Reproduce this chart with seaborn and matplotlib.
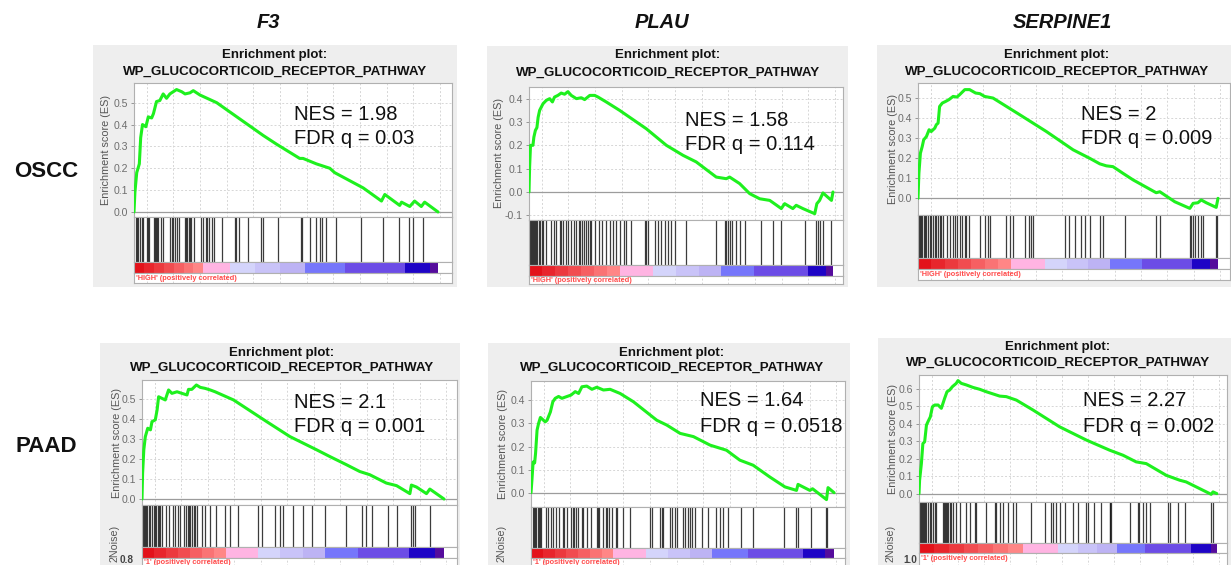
import numpy as np
import pandas as pd
import matplotlib
matplotlib.use("Agg")
import matplotlib.pyplot as plt
import seaborn as sns
from matplotlib.patches import Rectangle
from matplotlib.colors import to_rgb

# ---------------- data ----------------
genes = ["F3", "PLAU", "SERPINE1"]
cohorts = ["OSCC", "PAAD"]
pathway = "WP_GLUCOCORTICOID_RECEPTOR_PATHWAY"
phenotype = ["'HIGH' (positively correlated)", "'1' (positively correlated)"]
metric_label = "2Noise)"
nes_values = [["1.98", "1.58", "2"], ["2.1", "1.64", "2.27"]]
fdr_values = [["0.03", "0.114", "0.009"], ["0.001", "0.0518", "0.002"]]

# running enrichment score: rank position (fraction of ranked list) and ES
f3_oscc_rank = [0, .003, .009, .0175, .022, .028, .039, .047, .058, .064, .074, .085, .096, .107, .118, .14,
                .157, .168, .184, .195, .217, .272, .425, .469, .545, .556, .6, .644, .66, .754, .814, .825,
                .874, .88, .907, .923, .945, .956, 1.0]
f3_oscc_es = [0, .09, .18, .22, .34, .40, .39, .435, .43, .45, .505, .51, .54, .52, .54, .56, .55, .54, .545,
              .555, .535, .5, .35, .31, .245, .245, .22, .2, .18, .11, .05, .08, .03, .045, .025, .05, .025,
              .045, 0]
plau_oscc_rank = [0, .002, .005, .013, .016, .021, .026, .030, .035, .046, .057, .068, .077, .084, .095, .106,
                  .117, .128, .139, .156, .172, .183, .200, .216, .227, .254, .298, .386, .452, .507, .550,
                  .616, .649, .660, .693, .726, .759, .792, .803, .830, .841, .868, .879, .901, .940, .947,
                  .956, .967, .995, 1.0]
plau_oscc_es = [0, .107, .2, .2, .235, .264, .276, .32, .35, .378, .393, .4, .386, .407, .414, .424, .419, .43,
                .414, .4, .404, .396, .414, .414, .407, .386, .35, .271, .2, .157, .129, .064, .057, .064, .036,
                -.007, -.029, -.036, -.046, -.071, -.05, -.071, -.057, -.071, -.093, -.05, -.036, -.004,
                -.036, 0]
serpine1_oscc_rank = [0, .003, .008, .014, .019, .028, .037, .044, .056, .061, .067, .072, .081, .092, .103,
                      .117, .130, .139, .156, .172, .192, .206, .222, .25, .339, .428, .517, .572, .606, .628,
                      .65, .683, .717, .794, .806, .817, .856, .906, .917, .933, .944, .961, .994, 1.0]
serpine1_oscc_es = [0, .125, .225, .258, .292, .308, .342, .333, .35, .367, .375, .458, .475, .483, .492, .508,
                    .505, .517, .542, .542, .525, .522, .508, .5, .417, .333, .242, .2, .172, .162, .158, .125,
                    .092, .028, .033, .022, -.017, -.05, -.025, -.022, -.008, -.022, -.045, 0]
f3_paad_rank = [0, .002, .006, .011, .019, .028, .033, .044, .050, .055, .066, .077, .088, .099, .116, .132,
                .149, .154, .165, .180, .193, .209, .226, .242, .303, .413, .490, .534, .578, .622, .677, .721,
                .754, .809, .843, .887, .892, .909, .942, .953, 1.0]
f3_paad_es = [0, .13, .247, .313, .355, .347, .388, .397, .447, .513, .505, .497, .547, .53, .538, .53, .522,
              .55, .55, .572, .56, .555, .547, .538, .497, .388, .313, .28, .247, .213, .172, .138, .122, .08,
              .067, .027, .07, .06, .027, .05, 0]
plau_paad_rank = [0, .003, .007, .012, .015, .020, .025, .031, .047, .053, .064, .072, .080, .091, .102, .119,
                  .132, .146, .157, .168, .184, .201, .217, .239, .261, .294, .338, .415, .448, .492, .536,
                  .591, .645, .689, .733, .788, .838, .876, .881, .920, .929, .975, .980, 1.0]
plau_paad_es = [0, .054, .133, .129, .17, .271, .3, .326, .307, .314, .35, .394, .409, .417, .409, .417, .423,
                .438, .43, .459, .462, .448, .457, .445, .448, .43, .394, .314, .293, .257, .243, .206, .184,
                .141, .119, .068, .025, .01, .036, .01, .017, -.03, .022, 0]
serpine1_paad_rank = [0, .002, .008, .013, .019, .025, .030, .038, .045, .053, .064, .075, .086, .094, .103,
                      .112, .125, .131, .142, .159, .181, .204, .226, .271, .293, .327, .383, .472, .562, .640,
                      .685, .729, .763, .830, .875, .897, .981, .987, 1.0]
serpine1_paad_es = [0, .077, .172, .287, .297, .393, .412, .44, .498, .508, .508, .489, .546, .584, .594, .613,
                    .632, .648, .632, .623, .609, .598, .584, .559, .556, .536, .479, .383, .307, .249, .22,
                    .182, .172, .105, .077, .067, -.004, .01, 0]

# gene-set hit positions (fraction of ranked list)
f3_oscc_hits = [.005, .009, .014, .020, .025, .028, .044, .047, .050, .066, .069, .072, .077, .080, .089, .096,
                .118, .124, .129, .136, .142, .149, .168, .171, .175, .181, .184, .189, .197, .222, .228, .237,
                .241, .248, .255, .263, .291, .332, .337, .345, .376, .419, .425, .474, .549, .553, .578, .600,
                .611, .620, .631, .664, .748, .819, .872, .905, .918, .951]
plau_oscc_hits = [.002, .005, .010, .013, .016, .020, .024, .027, .032, .037, .042, .046, .057, .073, .081,
                  .090, .101, .106, .112, .121, .128, .139, .148, .156, .163, .169, .173, .180, .186, .194,
                  .200, .205, .216, .230, .241, .252, .265, .276, .287, .298, .311, .320, .337, .380, .386,
                  .391, .413, .424, .435, .446, .457, .468, .479, .518, .616, .644, .649, .655, .662, .669,
                  .682, .693, .709, .764, .803, .830, .907, .945, .951, .956, .967, .995]
serpine1_oscc_hits = [.002, .006, .009, .013, .019, .022, .028, .033, .039, .044, .050, .056, .061, .067, .072,
                      .078, .083, .097, .106, .117, .122, .130, .139, .148, .156, .161, .170, .206, .222, .233,
                      .241, .294, .306, .317, .356, .370, .378, .383, .489, .503, .522, .544, .556, .572, .606,
                      .617, .689, .794, .806, .908, .911, .917, .922, .933, .944, .950, .994, .998]
f3_paad_hits = [.002, .006, .009, .012, .017, .022, .028, .033, .039, .044, .047, .052, .056, .061, .066, .080,
                .088, .102, .110, .118, .127, .138, .146, .151, .155, .160, .165, .171, .176, .182, .198, .209,
                .226, .246, .275, .292, .319, .385, .396, .441, .457, .468, .501, .534, .562, .606, .675, .727,
                .743, .760, .815, .843, .892, .898, .903, .953]
plau_paad_hits = [.005, .009, .012, .016, .022, .025, .030, .033, .049, .055, .066, .071, .082, .093, .104,
                  .109, .120, .131, .137, .142, .148, .155, .169, .173, .186, .197, .219, .222, .226, .238,
                  .246, .251, .257, .268, .279, .284, .304, .328, .393, .399, .426, .432, .437, .459, .464,
                  .475, .481, .503, .508, .519, .525, .530, .541, .563, .585, .612, .623, .634, .650, .694,
                  .732, .836, .874, .880, .923, .973, .978]
serpine1_paad_hits = [.002, .006, .009, .013, .017, .020, .025, .030, .036, .041, .047, .053, .058, .081, .084,
                      .087, .092, .095, .098, .103, .109, .114, .125, .136, .159, .170, .187, .192, .226, .254,
                      .260, .271, .282, .299, .315, .327, .377, .422, .444, .450, .461, .472, .489, .517, .534,
                      .562, .567, .589, .612, .640, .642, .645, .707, .735, .740, .752, .763, .774, .836, .841,
                      .869, .892, .981, .987]

# ranked-list colour band ends (fraction): red, pink, lavender, blue, violet, dark blue, purple
f3_oscc_bands = [.228, .315, .562, .693, .89, .972, 1]
plau_oscc_bands = [.298, .408, .633, .739, .918, .976, 1]
serpine1_oscc_bands = [.311, .422, .641, .748, .914, .974, 1]
f3_paad_bands = [.279, .383, .606, .716, .885, .969, 1]
plau_paad_bands = [.272, .38, .598, .717, .896, .97, 1]
serpine1_paad_bands = [.349, .466, .665, .76, .913, .98, 1]

# y tick labels
f3_oscc_yticks = [0.0, 0.1, 0.2, 0.3, 0.4, 0.5]
plau_oscc_yticks = [-0.1, 0.0, 0.1, 0.2, 0.3, 0.4]
serpine1_oscc_yticks = [0.0, 0.1, 0.2, 0.3, 0.4, 0.5]
f3_paad_yticks = [0.0, 0.1, 0.2, 0.3, 0.4, 0.5]
plau_paad_yticks = [0.0, 0.1, 0.2, 0.3, 0.4]
serpine1_paad_yticks = [0.0, 0.1, 0.2, 0.3, 0.4, 0.5, 0.6]

# ---------------- style ----------------
sns.set_style("white")
plt.rcParams['font.family'] = ['Liberation Sans', 'DejaVu Sans']

W, H = 1231, 565
fig = plt.figure(figsize=(W / 100, H / 100), dpi=100)
fig.patch.set_facecolor("white")


def rect(x0, y0, x1, y1):
    return [x0 / W, 1 - y1 / H, (x1 - x0) / W, (y1 - y0) / H]


def ftxt(x, y, s, **kw):
    fig.text(x / W, 1 - y / H, s, **kw)


def blend(c1, c2, n):
    a, b = np.array(to_rgb(c1)), np.array(to_rgb(c2))
    return [tuple(a + (b - a) * t) for t in np.linspace(0, 1, n)]


GREEN = "#1ef01e"
FRAME = "#b0b0b0"
GRIDC = "#d6d6d6"

panels = [
    dict(row=0, col=0, rank=f3_oscc_rank, es=f3_oscc_es, hits=f3_oscc_hits, bands=f3_oscc_bands,
         yt=f3_oscc_yticks, box=(93, 45, 457, 287), esr=(134, 83, 452, 217), hr=(134, 217, 452, 262),
         cr=(134, 262, 452, 273), mr=(134, 273, 452, 283), xmax=1.046, ylim=(-0.023, 0.59),
         tx=275, ty=(55, 72), ylx=106, nes=(294, 114, 138), red=278),
    dict(row=0, col=1, rank=plau_oscc_rank, es=plau_oscc_es, hits=plau_oscc_hits, bands=plau_oscc_bands,
         yt=plau_oscc_yticks, box=(487, 46, 848, 287), esr=(529, 87, 843, 220), hr=(529, 220, 843, 265),
         cr=(529, 265, 843, 276), mr=(529, 276, 843, 284), xmax=1.033, ylim=(-0.12, 0.45),
         tx=668, ty=(55, 73), ylx=499, nes=(685, 120, 145), red=280),
    dict(row=0, col=2, rank=serpine1_oscc_rank, es=serpine1_oscc_es, hits=serpine1_oscc_hits,
         bands=serpine1_oscc_bands, yt=serpine1_oscc_yticks, box=(877, 45, 1232, 287),
         esr=(918, 83, 1230, 215), hr=(918, 215, 1230, 258), cr=(918, 258, 1230, 269),
         mr=(918, 269, 1230, 280), xmax=1.04, ylim=(-0.083, 0.575),
         tx=1057, ty=(55, 72), ylx=893, nes=(1081, 115, 138), red=274),
    dict(row=1, col=0, rank=f3_paad_rank, es=f3_paad_es, hits=f3_paad_hits, bands=f3_paad_bands,
         yt=f3_paad_yticks, box=(100, 343, 460, 570), esr=(142, 380, 457, 505), hr=(142, 505, 457, 547),
         cr=(142, 547, 457, 558), mr=(142, 558, 457, 572), xmax=1.043, ylim=(-0.03, 0.597),
         tx=282, ty=(353, 368), ylx=117, nes=(294, 402, 427), red=562, rk="0.8", rkx=127),
    dict(row=1, col=1, rank=plau_paad_rank, es=plau_paad_es, hits=plau_paad_hits, bands=plau_paad_bands,
         yt=plau_paad_yticks, box=(488, 343, 850, 570), esr=(531, 381, 845, 507), hr=(531, 507, 845, 548),
         cr=(531, 548, 845, 558), mr=(531, 558, 845, 572), xmax=1.036, ylim=(-0.062, 0.484),
         tx=672, ty=(353, 368), ylx=503, nes=(700, 401, 426), red=562, rk=None, rkx=0),
    dict(row=1, col=2, rank=serpine1_paad_rank, es=serpine1_paad_es, hits=serpine1_paad_hits,
         bands=serpine1_paad_bands, yt=serpine1_paad_yticks, box=(878, 338, 1232, 570),
         esr=(919, 375, 1227, 502), hr=(919, 502, 1227, 543), cr=(919, 543, 1227, 553),
         mr=(919, 553, 1227, 572), xmax=1.034, ylim=(-0.048, 0.68),
         tx=1058, ty=(347, 363), ylx=893, nes=(1083, 401, 426), red=558, rk="1.0", rkx=910),
]

red_shades = blend("#e3121a", "#ff8686", 7)
lav_shades = blend("#d4d4fb", "#bdb3f4", 3)
solid = {1: "#ffb4e2", 3: "#7676fb", 4: "#6c4ce6", 5: "#1e04c6", 6: "#550c9c"}


def style_frame(ax):
    for s in ax.spines.values():
        s.set_color(FRAME)
        s.set_linewidth(0.8)
        s.set_visible(True)


for p in panels:
    x0, y0, x1, y1 = p["box"]
    fig.add_artist(Rectangle((x0 / W, 1 - y1 / H), (x1 - x0) / W, (y1 - y0) / H,
                             transform=fig.transFigure, facecolor="#eeeeee", edgecolor="none", zorder=0))
    gridx = np.arange(0.042, p["xmax"], 0.0877)

    # ES curve
    ax = fig.add_axes(rect(*p["esr"]))
    ax.set_facecolor("white")
    df = pd.DataFrame({"rank": p["rank"], "es": p["es"]})
    sns.lineplot(data=df, x="rank", y="es", ax=ax, color=GREEN, lw=2.2, estimator=None, sort=False,
                 zorder=3)
    ax.axhline(0, color="#9c9c9c", lw=0.9, zorder=2)
    ax.set_xlim(0, p["xmax"])
    ax.set_ylim(*p["ylim"])
    ax.set_xticks(gridx)
    ax.set_yticks(p["yt"])
    ax.set_yticklabels([f"{v:.1f}" for v in p["yt"]])
    ax.tick_params(axis="x", length=0, labelbottom=False)
    ax.tick_params(axis="y", length=2.5, width=0.6, color="#888888", labelsize=7.6, labelcolor="#6e6e6e",
                   pad=2, left=True)
    ax.grid(True, color=GRIDC, lw=0.7, ls=(0, (2, 2)))
    ax.set_xlabel("")
    ax.set_ylabel("")
    style_frame(ax)

    # hits
    axh = fig.add_axes(rect(*p["hr"]))
    axh.vlines(p["hits"], 0, 1, color="#1a1a1a", lw=0.9, alpha=0.85)
    axh.set_xlim(0, p["xmax"])
    axh.set_ylim(0, 1)
    axh.set_xticks([])
    axh.set_yticks([])
    style_frame(axh)

    # ranked list colour band
    axc = fig.add_axes(rect(*p["cr"]))
    b = p["bands"]
    starts = [0] + b[:-1]
    lefts, widths, cols = [], [], []
    for i, (s, e) in enumerate(zip(starts, b)):
        if i == 0:
            edges = np.linspace(s, e, len(red_shades) + 1)
            shades = red_shades
        elif i == 2:
            edges = np.linspace(s, e, len(lav_shades) + 1)
            shades = lav_shades
        else:
            edges = np.array([s, e])
            shades = [solid[i]]
        for j, c in enumerate(shades):
            lefts.append(edges[j])
            widths.append(edges[j + 1] - edges[j])
            cols.append(c)
    axc.barh([0.5] * len(lefts), widths, left=lefts, height=1.0, color=cols, edgecolor="none")
    axc.set_xlim(0, p["xmax"])
    axc.set_ylim(0, 1)
    axc.set_xticks([])
    axc.set_yticks([])
    style_frame(axc)

    # top of ranked list metric panel (cropped)
    axm = fig.add_axes(rect(*p["mr"]))
    axm.set_facecolor("white")
    axm.set_xlim(0, p["xmax"])
    axm.set_xticks(gridx)
    axm.set_yticks([])
    axm.tick_params(axis="x", length=0, labelbottom=False)
    axm.grid(True, axis="x", color=GRIDC, lw=0.7, ls=(0, (2, 2)))
    style_frame(axm)

    # texts
    ftxt(p["tx"], p["ty"][0], "Enrichment plot:", ha="center", va="center", fontsize=9.5,
         fontweight="bold", color="#111111")
    ftxt(p["tx"], p["ty"][1], pathway, ha="center", va="center", fontsize=9.6, fontweight="bold",
         color="#111111")
    ylc = (p["esr"][1] + p["esr"][3]) / 2
    ftxt(p["ylx"], ylc, "Enrichment score (ES)", rotation=90, ha="center", va="center", fontsize=7.8,
         color="#555555")
    r, c = p["row"], p["col"]
    ftxt(p["nes"][0], p["nes"][1], f"NES = {nes_values[r][c]}", ha="left", va="center", fontsize=14.5,
         color="#111111")
    ftxt(p["nes"][0], p["nes"][2], f"FDR q = {fdr_values[r][c]}", ha="left", va="center", fontsize=14.5,
         color="#111111")
    ftxt(p["esr"][0] + 2, p["red"], phenotype[r], ha="left", va="center", fontsize=5.3,
         fontweight="bold", color="#ff4a4a")
    if r == 1:
        ftxt(p["ylx"] - 2, 543, metric_label, rotation=90, ha="center", va="center",
             fontsize=7.7, color="#555555")
        if p["rk"]:
            ftxt(p["rkx"], 560, p["rk"], ha="center", va="center", fontsize=7.2, color="#444444",
                 fontweight="bold")

# column and row headers
col_x = [268, 662, 1062]
for g, x in zip(genes, col_x):
    ftxt(x, 22, g, ha="center", va="center", fontsize=14.5, fontweight="bold", fontstyle="italic",
         color="#111111")
row_y = [172, 447]
for lab, y in zip(cohorts, row_y):
    ftxt(46, y, lab, ha="center", va="center", fontsize=16, fontweight="bold", color="#111111")

fig.savefig("out.png", dpi=100, facecolor="white")
